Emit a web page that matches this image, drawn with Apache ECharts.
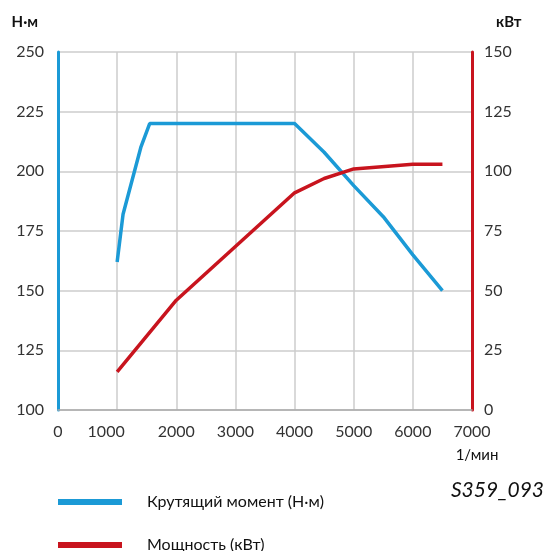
<!DOCTYPE html>
<html>
<head>
<meta charset="utf-8">
<script src="https://cdn.jsdelivr.net/npm/echarts@6/dist/echarts.min.js"></script>
<style>html,body{margin:0;padding:0;background:#fff}#c{width:548px;height:551px}</style>
</head>
<body>
<div id="c"></div>
<script>
const rpmTicks = [0, 1000, 2000, 3000, 4000, 5000, 6000, 7000];
const torqueRpm = [1000, 1100, 1400, 1550, 2000, 3000, 3500, 4000, 4500, 5000, 5500, 6000, 6500];
const torqueNm  = [162, 182, 210, 220, 220, 220, 220, 220, 208, 194, 181, 165, 150];
const powerRpm  = [1000, 2000, 3000, 4000, 4500, 5000, 6000, 6500];
const powerKw   = [16, 46, 68.5, 91, 97, 101, 103, 103];
const torqueName = 'Крутящий момент (Н·м)';
const powerName = 'Мощность (кВт)';

const blue = '#1B9AD6';
const red = '#C8141E';
const font = 'Lato, "Noto Sans", sans-serif';

const legendBase = {
  orient: 'horizontal', left: 58, padding: 0,
  itemWidth: 64, itemHeight: 6, icon: 'rect',
  textStyle: { fontSize: 16, color: '#111', padding: [0, 0, 0, 20], fontFamily: font }
};

const chart = echarts.init(document.getElementById('c'));
chart.setOption({
  animation: false,
  textStyle: { fontFamily: font },
  grid: { left: 58, right: 76, top: 52, bottom: 141 },
  legend: [
    Object.assign({}, legendBase, { top: 494, data: [torqueName] }),
    Object.assign({}, legendBase, { top: 537, data: [powerName] })
  ],
  xAxis: {
    type: 'value', min: 0, max: 7000, interval: 1000,
    name: '1/мин', nameLocation: 'end', nameGap: 0,
    nameTextStyle: { fontSize: 15, color: '#111', align: 'center', verticalAlign: 'top', padding: [38, 0, 0, 10], fontFamily: font },
    axisLine: { show: true, lineStyle: { color: '#aaa', width: 1.5 } },
    axisTick: { show: false },
    axisLabel: { fontSize: 16, color: '#333', margin: 14,
      formatter: v => v === 1000 ? '{a|1000}' : String(v),
      rich: { a: { fontSize: 16, color: '#333', padding: [0, 22, 0, 0], fontFamily: font } } },
    splitLine: { show: true, lineStyle: { color: '#ccc', width: 1.5 } }
  },
  yAxis: [
    {
      type: 'value', min: 100, max: 250, interval: 25, position: 'left',
      name: 'Н·м', nameLocation: 'end', nameGap: 30,
      nameTextStyle: { fontSize: 15, color: '#111', align: 'right', verticalAlign: 'middle', padding: [0, 20, 0, 0], fontWeight: 'bold', fontFamily: font },
      axisLine: { show: true, lineStyle: { color: blue, width: 3 } },
      axisTick: { show: false },
      axisLabel: { fontSize: 16, color: '#333', margin: 14 },
      splitLine: { show: true, lineStyle: { color: '#ccc', width: 1.5 } }
    },
    {
      type: 'value', min: 0, max: 150, interval: 25, position: 'right',
      name: 'кВт', nameLocation: 'end', nameGap: 30,
      nameTextStyle: { fontSize: 15, color: '#111', align: 'left', verticalAlign: 'middle', padding: [0, 0, 0, 24], fontWeight: 'bold', fontFamily: font },
      axisLine: { show: true, lineStyle: { color: red, width: 3 } },
      axisTick: { show: false },
      axisLabel: { fontSize: 16, color: '#333', margin: 12 },
      splitLine: { show: false }
    }
  ],
  graphic: [
    { type: 'text', right: 4, top: 480,
      style: { text: 'S359_093', fontSize: 21, fontStyle: 'italic', fill: '#111', fontFamily: font } }
  ],
  series: [
    { name: torqueName, type: 'line', yAxisIndex: 0, symbol: 'none',
      lineStyle: { color: blue, width: 3.5 }, itemStyle: { color: blue },
      data: torqueRpm.map((r, i) => [r, torqueNm[i]]) },
    { name: powerName, type: 'line', yAxisIndex: 1, symbol: 'none',
      lineStyle: { color: red, width: 3.5 }, itemStyle: { color: red },
      data: powerRpm.map((r, i) => [r, powerKw[i]]) }
  ]
});
</script>
</body>
</html>
